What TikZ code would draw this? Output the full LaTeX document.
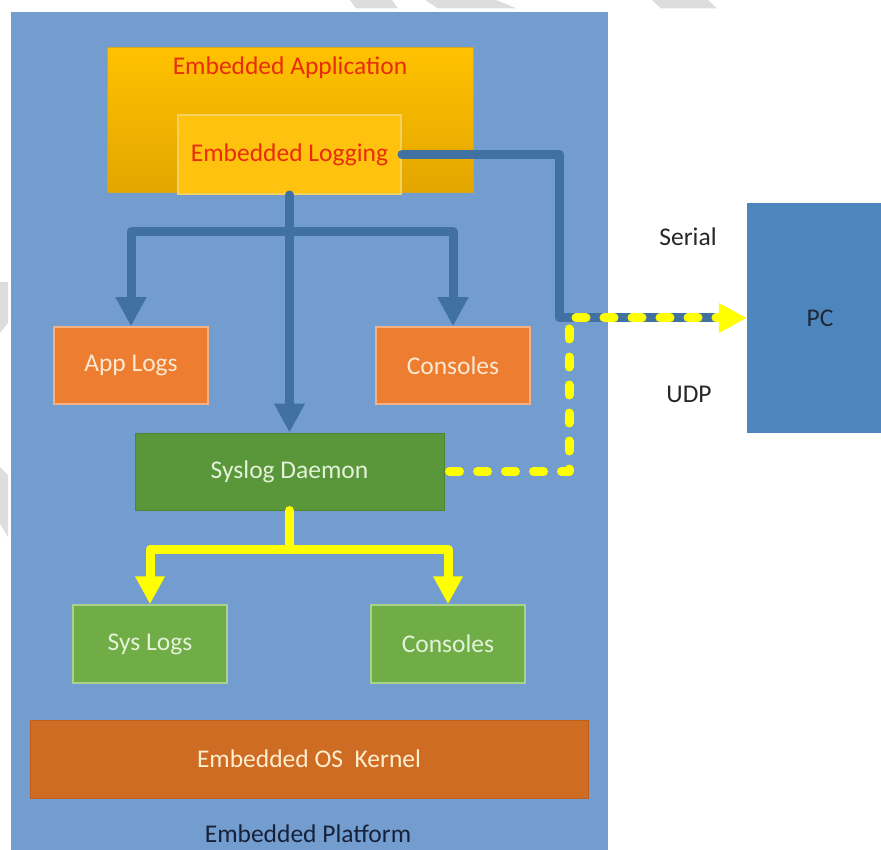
\documentclass[tikz,border=0pt]{standalone}
\usepackage{fontspec}
\setmainfont{Carlito}
\usetikzlibrary{arrows.meta}
\definecolor{platc}{RGB}{115,157,207}
\definecolor{apptop}{RGB}{255,193,0}
\definecolor{appbot}{RGB}{226,166,0}
\definecolor{appbord}{RGB}{214,165,30}
\definecolor{logfill}{RGB}{255,194,14}
\definecolor{logbord}{RGB}{246,208,95}
\definecolor{redtxt}{RGB}{232,45,10}
\definecolor{blueln}{RGB}{65,113,160}
\definecolor{orng}{RGB}{237,125,49}
\definecolor{orngbord}{RGB}{244,177,131}
\definecolor{orngtxt}{RGB}{253,233,210}
\definecolor{sysg}{RGB}{90,150,58}
\definecolor{sysgbord}{RGB}{80,132,50}
\definecolor{greentxt}{RGB}{228,242,218}
\definecolor{lgreen}{RGB}{112,173,71}
\definecolor{lgreenbord}{RGB}{169,209,142}
\definecolor{kern}{RGB}{207,108,36}
\definecolor{kernbord}{RGB}{190,95,30}
\definecolor{kerntxt}{RGB}{255,238,205}
\definecolor{pcc}{RGB}{76,134,189}
\definecolor{pctxt}{RGB}{30,40,55}
\definecolor{plattxt}{RGB}{22,33,58}
\definecolor{yel}{RGB}{255,255,0}
\definecolor{wm}{RGB}{221,221,221}
\begin{document}
\begin{tikzpicture}[x=1pt,y=-1pt,
  every node/.style={inner sep=0pt,font=\fontsize{25.5}{30}\selectfont},
  lbl/.style={text=plattxt},
  bluel/.style={draw=blueln,line width=9pt,line cap=round,line join=round},
  bluearr/.style={bluel,-{Triangle[width=29pt,length=29pt]}},
  yell/.style={draw=yel,line width=9pt,line cap=round,line join=round},
  yelarr/.style={yell,-{Triangle[width=28pt,length=28pt]}},
  yeldash/.style={yell,dash pattern=on 10pt off 18pt,dash phase=-5pt}
]
\useasboundingbox (0,0) rectangle (881,850);
% watermark fragments
\fill[wm] (350,0) -- (392,0) -- (398,8.5) -- (356,8.5) -- cycle;
\fill[wm] (425,0) -- (496,0) -- (517,8.5) -- (438,8.5) -- cycle;
\fill[wm] (652,0) -- (708,0) -- (717,8.5) -- (661,8.5) -- cycle;
\fill[wm] (0,282) -- (8,282) -- (8,323) -- (0,333) -- cycle;
\fill[wm] (0,467) -- (8,475) -- (8,537) -- (0,524) -- cycle;
% platform
\node[rectangle,fill=platc,minimum width=597pt,minimum height=840pt] (plat) at (309.5,432) {};
\node[lbl] (plattext) at (308,834) {Embedded Platform};
% application
\node[rectangle,draw=appbord,line width=1pt,top color=apptop,bottom color=appbot,minimum width=366pt,minimum height=145pt] (app) at (290,120.5) {};
\node[text=redtxt] (apptext) at (290,68) {Embedded Application};
\node[rectangle,fill=logfill,draw=logbord,line width=2pt,minimum width=223pt,minimum height=79pt,text=redtxt] (log) at (289.5,154.5) {Embedded Logging};
% orange boxes
\node[rectangle,fill=orng,draw=orngbord,line width=1.5pt,minimum width=154pt,minimum height=77pt,text=orngtxt] (applogs) at (131,365.5) {App Logs};
\node[rectangle,fill=orng,draw=orngbord,line width=1.5pt,minimum width=154pt,minimum height=77pt,text=orngtxt] (cons1) at (453,365.5) {Consoles};
% syslog
\node[rectangle,fill=sysg,draw=sysgbord,line width=1pt,minimum width=309pt,minimum height=77pt,text=greentxt] (syslog) at (289.5,471.5) {Syslog Daemon};
\node[rectangle,fill=lgreen,draw=lgreenbord,line width=1.5pt,minimum width=154pt,minimum height=78pt,text=greentxt] (syslogs) at (150,644) {Sys Logs};
\node[rectangle,fill=lgreen,draw=lgreenbord,line width=1.5pt,minimum width=154pt,minimum height=78pt,text=greentxt] (cons2) at (448,644) {Consoles};
% kernel
\node[rectangle,fill=kern,draw=kernbord,line width=1pt,minimum width=558pt,minimum height=78pt,text=kerntxt] (kernel) at (309,759) {Embedded OS\ \ Kernel};
% PC
\node[rectangle,fill=pcc,minimum width=134pt,minimum height=230pt] (pc) at (814,318) {};
\node[text=pctxt] (pctext) at (820,318) {PC};
\node[text=black!85] (serial) at (688,237) {Serial};
\node[text=black!85] (udp) at (689,394) {UDP};
% coordinates
\coordinate (b1) at (289.5,232);
\coordinate (b2) at (289.5,549);
\coordinate (c1) at (559,318);
\coordinate (c2) at (569,318);
% blue connectors
\draw[bluearr] (log.south) -- (syslog.north);
\draw[bluearr] (b1) -| (applogs.north);
\draw[bluearr] (b1) -| (cons1.north);
\draw[bluel] (log.east) -| (c1) -- ([xshift=-28pt]pc.west);
% yellow connectors
\draw[yell] (syslog.south) -- (b2);
\draw[yelarr] (b2) -| (syslogs.north);
\draw[yelarr] (b2) -| (cons2.north);
\draw[yeldash] (syslog.east) -| (c2) -- ([xshift=-29pt]pc.west);
\draw[yelarr] ([xshift=-30pt]pc.west) -- (pc.west);
\end{tikzpicture}
\end{document}
